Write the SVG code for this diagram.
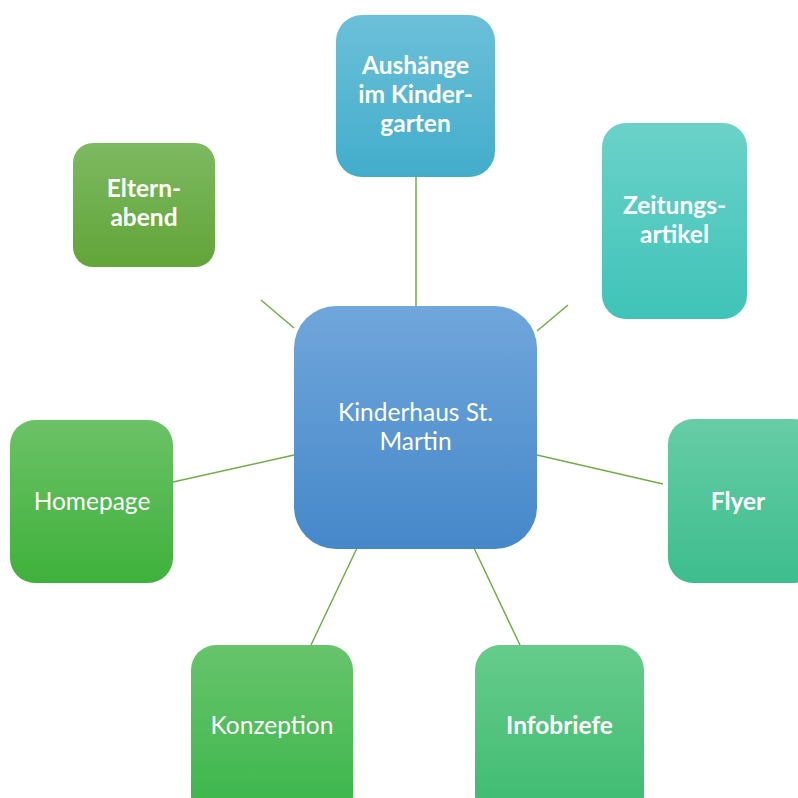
<svg xmlns="http://www.w3.org/2000/svg" width="798" height="798" viewBox="0 0 798 798">
<defs>
<linearGradient id="gC" x1="0" y1="0" x2="0" y2="1"><stop offset="0" stop-color="#70a6db"/><stop offset="1" stop-color="#4588ca"/></linearGradient>
<linearGradient id="gA" x1="0" y1="0" x2="0" y2="1"><stop offset="0" stop-color="#6cc0d9"/><stop offset="1" stop-color="#42adcb"/></linearGradient>
<linearGradient id="gE" x1="0" y1="0" x2="0" y2="1"><stop offset="0" stop-color="#7db961"/><stop offset="1" stop-color="#62a538"/></linearGradient>
<linearGradient id="gZ" x1="0" y1="0" x2="0" y2="1"><stop offset="0" stop-color="#6bd2c9"/><stop offset="1" stop-color="#3fc3b8"/></linearGradient>
<linearGradient id="gF" x1="0" y1="0" x2="0" y2="1"><stop offset="0" stop-color="#67cda7"/><stop offset="1" stop-color="#3dbd8e"/></linearGradient>
<linearGradient id="gH" x1="0" y1="0" x2="0" y2="1"><stop offset="0" stop-color="#6cc266"/><stop offset="1" stop-color="#3eb13b"/></linearGradient>
<linearGradient id="gK" x1="0" y1="0" x2="0" y2="1"><stop offset="0" stop-color="#67c46b"/><stop offset="1" stop-color="#3ab64a"/></linearGradient>
<linearGradient id="gI" x1="0" y1="0" x2="0" y2="1"><stop offset="0" stop-color="#66cc8c"/><stop offset="1" stop-color="#3dba6f"/></linearGradient>
</defs>
<style>
.t{font-family:Lato,"Open Sans","Liberation Sans",sans-serif;fill:#ffffff;text-anchor:middle;font-size:24.5px}
.b{font-weight:bold}
.c{stroke:#70ad47;stroke-width:1.5;fill:none}
</style>
<g id="connectors">
<line class="c" x1="416" y1="177" x2="416" y2="306"/>
<line class="c" x1="261" y1="300" x2="294" y2="328"/>
<line class="c" x1="568" y1="305" x2="537" y2="331"/>
<line class="c" x1="173" y1="482" x2="294" y2="455"/>
<line class="c" x1="537" y1="455" x2="663" y2="484"/>
<line class="c" x1="357" y1="548" x2="311" y2="645"/>
<line class="c" x1="474" y1="548" x2="520" y2="645"/>
</g>
<g id="center">
<rect x="294" y="306" width="243" height="243" rx="42" fill="url(#gC)"/>
<text class="t" x="415.5" y="421">Kinderhaus St.</text>
<text class="t" x="415.5" y="450">Martin</text>
</g>
<g id="aushaenge">
<rect x="336" y="15" width="159" height="162" rx="26" fill="url(#gA)"/>
<text class="t b" x="415.5" y="74">Aushänge</text>
<text class="t b" x="415.5" y="103">im Kinder-</text>
<text class="t b" x="415.5" y="132">garten</text>
</g>
<g id="elternabend">
<rect x="73" y="143" width="142" height="124" rx="20" fill="url(#gE)"/>
<text class="t b" x="144" y="197">Eltern-</text>
<text class="t b" x="144" y="226">abend</text>
</g>
<g id="zeitungsartikel">
<rect x="602" y="123" width="145" height="196" rx="24" fill="url(#gZ)"/>
<text class="t b" x="674.5" y="214">Zeitungs-</text>
<text class="t b" x="674.5" y="243">artikel</text>
</g>
<g id="flyer">
<rect x="668" y="419" width="150" height="164" rx="25" fill="url(#gF)"/>
<text class="t b" x="738" y="510">Flyer</text>
</g>
<g id="homepage">
<rect x="10" y="420" width="163" height="163" rx="25" fill="url(#gH)"/>
<text class="t" x="92" y="510">Homepage</text>
</g>
<g id="konzeption">
<rect x="191" y="645" width="162" height="175" rx="25" fill="url(#gK)"/>
<text class="t" x="272" y="734">Konzeption</text>
</g>
<g id="infobriefe">
<rect x="475" y="645" width="169" height="175" rx="25" fill="url(#gI)"/>
<text class="t b" x="559.5" y="734">Infobriefe</text>
</g>
</svg>
